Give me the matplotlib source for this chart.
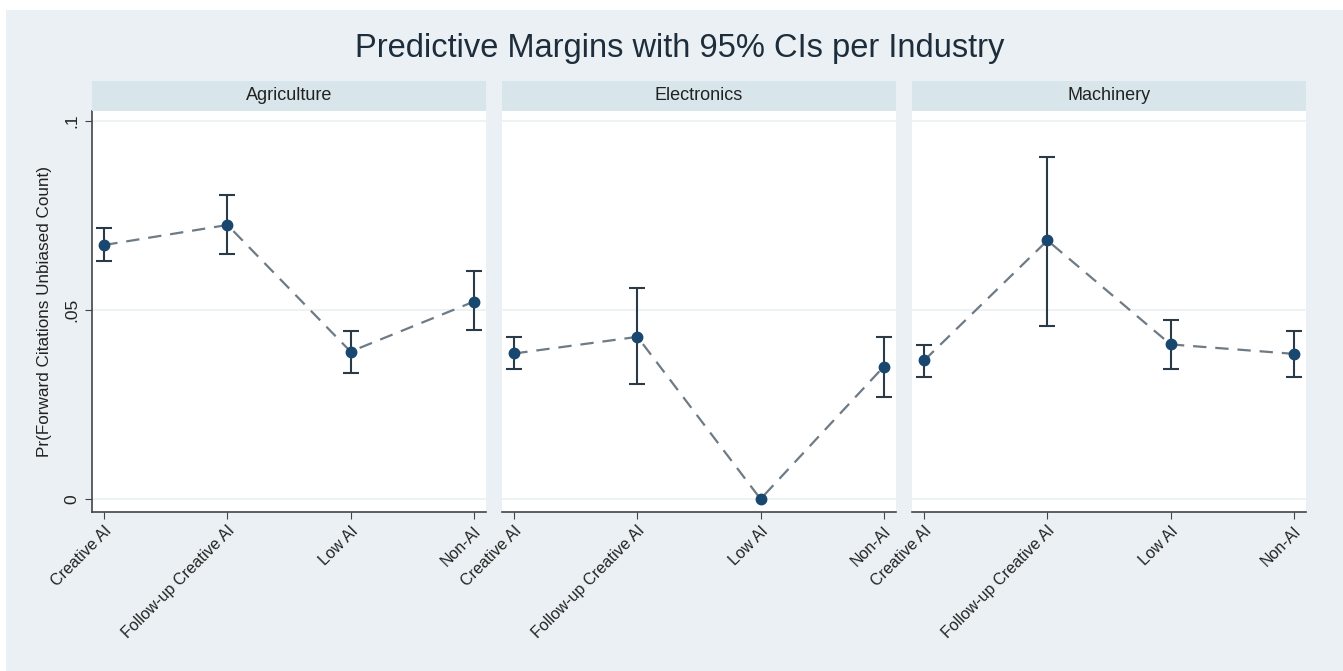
import matplotlib
matplotlib.use("Agg")
import matplotlib.pyplot as plt
from matplotlib.patches import Rectangle

plt.rcParams['font.family'] = ['Liberation Sans', 'DejaVu Sans']

industries = ["Agriculture", "Electronics", "Machinery"]
categories = ["Creative AI", "Follow-up Creative AI", "Low AI", "Non-AI"]

margins = {
    "Agriculture": [0.0672, 0.0725, 0.0390, 0.0522],
    "Electronics": [0.0385, 0.0429, 0.0000, 0.0350],
    "Machinery":   [0.0367, 0.0684, 0.0409, 0.0384],
}
ci_low = {
    "Agriculture": [0.0630, 0.0648, 0.0333, 0.0447],
    "Electronics": [0.0345, 0.0303, 0.0000, 0.0271],
    "Machinery":   [0.0324, 0.0458, 0.0343, 0.0324],
}
ci_high = {
    "Agriculture": [0.0717, 0.0804, 0.0445, 0.0603],
    "Electronics": [0.0428, 0.0557, 0.0000, 0.0428],
    "Machinery":   [0.0407, 0.0906, 0.0473, 0.0445],
}
yticks = [0, 0.05, 0.1]
ytick_labels = ["0", ".05", ".1"]

W, H = 1343, 671
fig = plt.figure(figsize=(W / 100, H / 100), dpi=100, facecolor='white')

bg = '#EAF0F3'
strip_c = '#D8E5EA'
fig.patches.append(Rectangle((6 / W, 0), 1 - 6 / W, 1 - 10 / H, transform=fig.transFigure,
                             facecolor=bg, edgecolor='none', zorder=-10))

fig.text(680 / W, 1 - 49 / H, "Predictive Margins with 95% CIs per Industry",
         ha='center', va='center', fontsize=23.5, color='#1E2D3B')

panel_x = [92, 502, 912]
pw = 394
top, bottom = 111, 512
strip_top = 81

navy = '#1A476F'
dark = '#2B3A47'
xs = list(range(len(categories)))

for i, ind in enumerate(industries):
    x0 = panel_x[i]
    ax = fig.add_axes([x0 / W, 1 - bottom / H, pw / W, (bottom - top) / H])
    ax.set_facecolor('white')
    ax.set_xlim(-0.1, 3.1)
    ax.set_ylim(-0.00344, 0.10265)
    for yv in yticks:
        ax.axhline(yv, color='#EAF0F3', lw=1.2, zorder=0)
    m = margins[ind]
    lo = ci_low[ind]
    hi = ci_high[ind]
    # only draw CIs that have a visible width
    ex, em, el, eh = [], [], [], []
    for x, mm, l, h in zip(xs, m, lo, hi):
        if h - l > 0:
            ex.append(x)
            em.append(mm)
            el.append(mm - l)
            eh.append(h - mm)
    ax.errorbar(ex, em, yerr=[el, eh], fmt='none', ecolor=dark, elinewidth=1.5,
                capsize=6, capthick=1.5, zorder=3)
    ax.plot(xs, m, linestyle=(0, (6, 4)), color='#6E7A84', lw=1.6, zorder=2)
    ax.plot(xs, m, 'o', color=navy, markersize=7.5, zorder=4)

    ax.set_xticks(xs)
    ax.set_xticklabels(categories, rotation=45, ha='right', rotation_mode='anchor',
                       fontsize=11.5, color='#222222')
    ax.tick_params(axis='x', length=5, color='#444444', pad=3)
    for s in ['top', 'right']:
        ax.spines[s].set_visible(False)
    ax.spines['bottom'].set_color('#444444')
    ax.spines['bottom'].set_linewidth(1.2)
    if i == 0:
        ax.spines['left'].set_color('#444444')
        ax.spines['left'].set_linewidth(1.2)
        ax.set_yticks(yticks)
        ax.set_yticklabels(ytick_labels, rotation=90, va='center', fontsize=12.5, color='#222222')
        ax.tick_params(axis='y', length=5, color='#444444', pad=4)
        ax.set_ylabel("Pr(Forward Citations Unbiased Count)", fontsize=12.3, color='#222222',
                      labelpad=9)
    else:
        ax.spines['left'].set_visible(False)
        ax.set_yticks([])

    # strip
    sax = fig.add_axes([x0 / W, 1 - top / H, pw / W, (top - strip_top) / H])
    sax.set_facecolor(strip_c)
    for s in sax.spines.values():
        s.set_visible(False)
    sax.set_xticks([])
    sax.set_yticks([])
    sax.text(0.5, 0.5, ind, ha='center', va='center', fontsize=13, color='#222222',
             transform=sax.transAxes)

fig.savefig("out.png", dpi=100, facecolor='white')
